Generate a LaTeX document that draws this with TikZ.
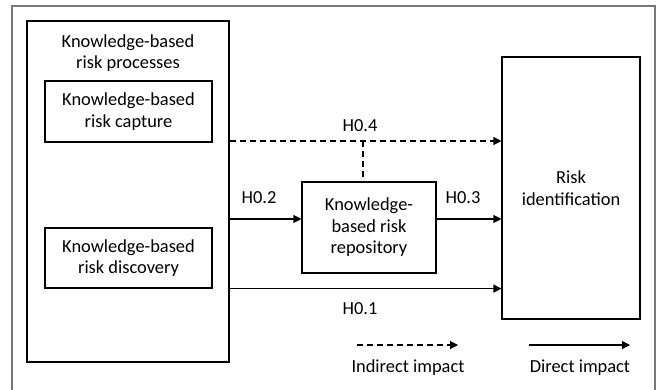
\documentclass[tikz,border=0pt]{standalone}
\usepackage{fontspec}
\setmainfont{Carlito}
\usetikzlibrary{arrows.meta}
\definecolor{framegray}{RGB}{120,120,120}
\tikzset{
    riskbox/.style={draw,line width=1.1pt,rectangle,inner sep=0pt,align=center},
    risktext/.style={align=center,inner sep=0pt}
}
\newcommand{\hyplabel}[3]{
    \node[risktext] (#3) at (#1, #2) {#3};
}

\begin{document}
\begin{tikzpicture}[x=1pt,y=-1pt,font=\fontsize{18.4}{21.5}\selectfont]
        \useasboundingbox (0,0) rectangle (660,389);
        \draw[framegray,line width=1.3pt] (12,396) -- (12,6) -- (655,6) -- (655,396);

        % boxes
        \node[riskbox,minimum width=202pt,minimum height=341pt] (procs) at (128,191.5) {};
        \node[risktext] (procstitle) at (128,53) {Knowledge-based\\risk processes};
        \node[riskbox,minimum width=167pt,minimum height=61pt] (capture) at (128.5,111.5) {Knowledge-based\\risk capture};
        \node[riskbox,minimum width=167pt,minimum height=60pt] (discovery) at (128.5,258) {Knowledge-based\\risk discovery};
        \node[riskbox,minimum width=134pt,minimum height=91pt] (repo) at (369,227.5) {Knowledge-\\based risk\\repository};
        \node[riskbox,minimum width=138pt,minimum height=262pt] (riskid) at (571,188) {Risk\\identification};

        \coordinate (lvlfour) at (363,141);
        \coordinate (lvltwo) at (266,219);

        \begin{scope}[every path/.style={
                line width=1.1pt,
                -{Triangle[length=8pt,width=8pt]}
            }]
            \draw[dash pattern=on 6pt off 4pt] (lvlfour -| procs.east) -- (lvlfour -| riskid.west);
            \draw (lvltwo -| procs.east) -- (lvltwo -| repo.west);
            \draw (lvltwo -| repo.east) -- (lvltwo -| riskid.west);
            \draw (discovery.south -| procs.east) -- (discovery.south -| riskid.west);
        \end{scope}
        \draw[line width=1.1pt,dash pattern=on 6pt off 4pt] (lvlfour) -- (lvlfour |- repo.north);

        \hyplabel{360}{126}{H0.4}
        \hyplabel{259}{198}{H0.2}
        \hyplabel{463}{198}{H0.3}
        \hyplabel{360}{309}{H0.1}

        % legend
        \node[risktext] (indirect) at (408,368) {Indirect impact};
        \node[risktext] (direct) at (580,368) {Direct impact};
        \coordinate (indstart) at (357,345);
        \coordinate (dirstart) at (529,345);
        \draw[line width=1.1pt,dash pattern=on 6pt off 4pt,-{Triangle[length=8pt,width=8pt]}] (indstart) -- ++(101,0);
        \draw[line width=1.1pt,-{Triangle[length=8pt,width=8pt]}] (dirstart) -- ++(101,0);
    \end{tikzpicture}
\end{document}
